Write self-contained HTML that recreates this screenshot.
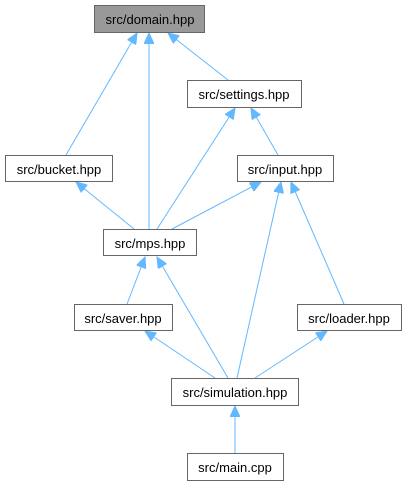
<!DOCTYPE html>
<html><head><meta charset="utf-8"><style>
html,body{margin:0;padding:0;background:#fff;width:407px;height:485px;overflow:hidden}
text{font-family:"Liberation Sans",Arial,sans-serif;font-size:13px;fill:#000;text-anchor:middle}
</style></head><body>
<svg width="407" height="485" viewBox="0 0 407 485" xmlns="http://www.w3.org/2000/svg">
<defs><marker id="a" markerWidth="12" markerHeight="10" refX="11" refY="5" orient="auto" markerUnits="userSpaceOnUse">
<path d="M0,0 L11,5 L0,10 Z" fill="#63b8ff" stroke="#63b8ff"/></marker></defs>
<g stroke="#63b8ff" stroke-width="1" fill="none" marker-end="url(#a)">
<line x1="66" y1="155" x2="137" y2="33"/>
<line x1="149" y1="229" x2="149" y2="33"/>
<line x1="228" y1="80" x2="168" y2="33"/>
<line x1="157" y1="229" x2="235" y2="108"/>
<line x1="278" y1="155" x2="251" y2="108"/>
<line x1="134" y1="229" x2="76" y2="182"/>
<line x1="172" y1="229" x2="261" y2="182"/>
<line x1="237" y1="378" x2="281" y2="182"/>
<line x1="344" y1="304" x2="291" y2="182"/>
<line x1="127" y1="304" x2="145" y2="257"/>
<line x1="228" y1="378" x2="157" y2="257"/>
<line x1="215" y1="378" x2="145" y2="331"/>
<line x1="255" y1="378" x2="327" y2="331"/>
<line x1="235" y1="453" x2="235" y2="406"/>
</g>
<g stroke="#666" stroke-width="1">
<rect x="94.5" y="5.5" width="110" height="27" fill="#999"/>
<rect x="187.5" y="80.5" width="114" height="27" fill="#fff"/>
<rect x="5.5" y="155.5" width="107" height="26" fill="#fff"/>
<rect x="237.5" y="155.5" width="96" height="26" fill="#fff"/>
<rect x="103.5" y="229.5" width="93" height="26" fill="#fff"/>
<rect x="74.5" y="304.5" width="98" height="26" fill="#fff"/>
<rect x="297.5" y="304.5" width="104" height="26" fill="#fff"/>
<rect x="171.5" y="378.5" width="127" height="27" fill="#fff"/>
<rect x="187.5" y="453.5" width="96" height="27" fill="#fff"/>
</g>
<text x="150" y="24">src/domain.hpp</text>
<text x="244" y="99">src/settings.hpp</text>
<text x="59" y="174">src/bucket.hpp</text>
<text x="285" y="174">src/input.hpp</text>
<text x="150" y="248">src/mps.hpp</text>
<text x="123" y="323">src/saver.hpp</text>
<text x="349" y="323">src/loader.hpp</text>
<text x="235" y="397">src/simulation.hpp</text>
<text x="235" y="472">src/main.cpp</text>
</svg>
</body></html>
